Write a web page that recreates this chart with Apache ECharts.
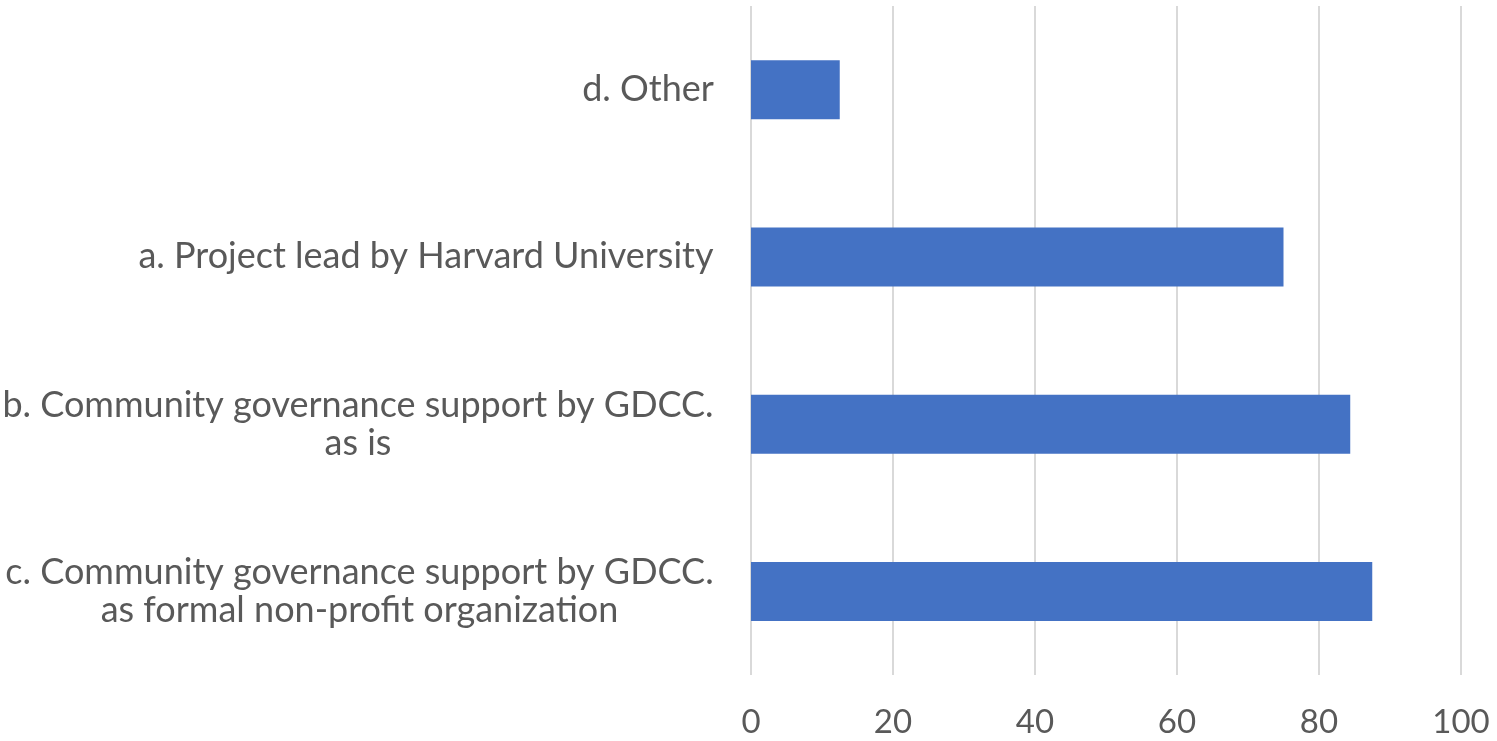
<!DOCTYPE html>
<html>
<head>
<meta charset="utf-8">
<script src="https://cdn.jsdelivr.net/npm/echarts@6/dist/echarts.min.js"></script>
<style>
html,body{margin:0;padding:0;background:#fff;}
#chart{width:1497px;height:741px;}
</style>
</head>
<body>
<div id="chart"></div>
<script>
// Data (bottom to top on the category axis)
const categories = [
  "c. Community governance support by GDCC.\nas formal non-profit organization",
  "b. Community governance support by GDCC.\nas is",
  "a. Project lead by Harvard University",
  "d. Other"
];
const values = [87.5, 84.4, 75, 12.5];
const xTicks = { min: 0, max: 100, interval: 20 };

const FONT = 'Lato';
const FS = 36;
const TICK_FS = 33;
const textColor = '#595959';

// measure label block widths for centered multi-line labels
const cv = document.createElement('canvas').getContext('2d');
cv.font = FS + 'px ' + FONT;
const rich = {};
const keyFor = {};
categories.forEach((c, i) => {
  const lines = c.split('\n');
  const w = Math.ceil(Math.max(...lines.map(l => cv.measureText(l).width))) + 2;
  const k = 'l' + i;
  keyFor[c] = k;
  rich[k] = { width: w, align: 'center', fontSize: FS, fontFamily: FONT, color: textColor, lineHeight: 38 };
});

const chart = echarts.init(document.getElementById('chart'));
chart.setOption({
  animation: false,
  backgroundColor: '#ffffff',
  grid: { left: 751, right: 36, top: 6, bottom: 66, containLabel: false, outerBoundsMode: 'none' },
  xAxis: {
    type: 'value',
    min: xTicks.min, max: xTicks.max, interval: xTicks.interval,
    axisLine: { show: false },
    axisTick: { show: false },
    splitLine: { show: true, lineStyle: { color: '#d9d9d9', width: 2 } },
    axisLabel: { color: textColor, fontSize: TICK_FS, fontFamily: FONT, margin: 31 }
  },
  yAxis: {
    type: 'category',
    data: categories,
    axisLine: { show: false },
    axisTick: { show: false },
    axisLabel: {
      margin: 36,
      align: 'right',
      formatter: function (v) {
        const k = keyFor[v];
        return v.split('\n').map(l => '{' + k + '|' + l + '}').join('\n');
      },
      rich: rich
    }
  },
  series: [{
    type: 'bar',
    data: values,
    barWidth: 59,
    itemStyle: { color: '#4472C4' }
  }]
});
</script>
</body>
</html>
